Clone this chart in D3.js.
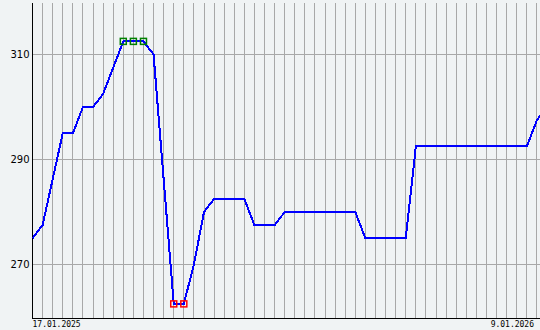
<!DOCTYPE html>
<html>
<head>
<meta charset="utf-8">
<script src="https://cdn.jsdelivr.net/npm/d3@7"></script>
<style>
  html, body { margin: 0; padding: 0; background: #f0f3f4; }
  svg { display: block; }
  .grid { stroke: #a8a8a8; stroke-width: 1; shape-rendering: crispEdges; }
  .axis { stroke: #000; stroke-width: 1; shape-rendering: crispEdges; }
  .ylab { font-family: 'DejaVu Sans', sans-serif; font-size: 10px; fill: #000; }
  .xlab { font-family: 'DejaVu Sans Mono', monospace; font-size: 8px; fill: #000; }
</style>
</head>
<body>
<script>
'use strict';

var width = 540;
var height = 330;

// weekly closes, one per Friday from 17.01.2025 to 9.01.2026
var weeks = [
  '2025-01-17', '2025-01-24', '2025-01-31', '2025-02-07', '2025-02-14', '2025-02-21',
  '2025-02-28', '2025-03-07', '2025-03-14', '2025-03-21', '2025-03-28', '2025-04-04',
  '2025-04-11', '2025-04-18', '2025-04-25', '2025-05-02', '2025-05-09', '2025-05-16',
  '2025-05-23', '2025-05-30', '2025-06-06', '2025-06-13', '2025-06-20', '2025-06-27',
  '2025-07-04', '2025-07-11', '2025-07-18', '2025-07-25', '2025-08-01', '2025-08-08',
  '2025-08-15', '2025-08-22', '2025-08-29', '2025-09-05', '2025-09-12', '2025-09-19',
  '2025-09-26', '2025-10-03', '2025-10-10', '2025-10-17', '2025-10-24', '2025-10-31',
  '2025-11-07', '2025-11-14', '2025-11-21', '2025-11-28', '2025-12-05', '2025-12-12',
  '2025-12-19', '2025-12-26', '2026-01-02', '2026-01-09'
];
var closes = [
  275, 277.5, 286.25, 295, 295, 300,
  300, 302.5, 307.5, 312.5, 312.5, 312.5,
  310, 286.25, 262.5, 262.5, 270, 280,
  282.5, 282.5, 282.5, 282.5, 277.5, 277.5,
  277.5, 280, 280, 280, 280, 280,
  280, 280, 280, 275, 275, 275,
  275, 275, 292.5, 292.5, 292.5, 292.5,
  292.5, 292.5, 292.5, 292.5, 292.5, 292.5,
  292.5, 292.5, 297.5, 300
];
var yTicks = [270, 290, 310];
var dateLabels = ['17.01.2025', '9.01.2026'];

var parse = d3.timeParse('%Y-%m-%d');
var data = weeks.map(function (w, i) {
  return { date: parse(w), value: closes[i] };
});

var svg = d3.select('body').append('svg').attr('width', width).attr('height', height);

var x = d3.scaleTime().domain(d3.extent(data, function (d) { return d.date; })).range([32.5, 547]);
var y = d3.scaleLinear().domain([260, 320]).range([317, 2]);

// vertical week grid
svg.append('g').selectAll('line').data(data.slice(1)).enter().append('line')
  .attr('class', 'grid')
  .attr('x1', function (d) { return x(d.date); })
  .attr('x2', function (d) { return x(d.date); })
  .attr('y1', y(320) + 1)
  .attr('y2', y(260) + 1);

// horizontal grid
svg.append('g').selectAll('line').data(yTicks).enter().append('line')
  .attr('class', 'grid')
  .attr('x1', x.range()[0])
  .attr('x2', width)
  .attr('y1', function (d) { return y(d); })
  .attr('y2', function (d) { return y(d); });

// axes
svg.append('line').attr('class', 'axis')
  .attr('x1', x.range()[0]).attr('x2', x.range()[0])
  .attr('y1', y(320) + 1).attr('y2', y(260) + 1.5);
svg.append('line').attr('class', 'axis')
  .attr('x1', x.range()[0]).attr('x2', width)
  .attr('y1', y(260) + 1.5).attr('y2', y(260) + 1.5);

svg.append('g').selectAll('text').data(yTicks).enter().append('text')
  .attr('class', 'ylab')
  .attr('x', x.range()[0] - 3)
  .attr('y', function (d) { return y(d); })
  .attr('dy', '0.36em')
  .attr('text-anchor', 'end')
  .text(function (d) { return d; });

svg.append('text').attr('class', 'xlab')
  .attr('x', x.range()[0]).attr('y', height - 3)
  .text(dateLabels[0]);
svg.append('text').attr('class', 'xlab')
  .attr('x', width - 6).attr('y', height - 3)
  .attr('text-anchor', 'end')
  .text(dateLabels[1]);

// price line
var line = d3.line()
  .x(function (d) { return x(d.date); })
  .y(function (d) { return y(d.value); });

svg.append('path').datum(data)
  .attr('d', line)
  .attr('fill', 'none')
  .attr('stroke', '#0000ff')
  .attr('stroke-width', 2)
  .attr('shape-rendering', 'crispEdges');

// high / low markers
var hi = d3.max(closes);
var lo = d3.min(closes);
var marks = data.filter(function (d) { return d.value === hi || d.value === lo; });

svg.append('g').selectAll('rect').data(marks).enter().append('rect')
  .attr('x', function (d) { return x(d.date) - 3; })
  .attr('y', function (d) { return y(d.value) - 3; })
  .attr('width', 6)
  .attr('height', 6)
  .attr('fill', 'none')
  .attr('stroke', function (d) { return d.value === hi ? '#008000' : '#ff0000'; })
  .attr('stroke-width', 1.5);
</script>
</body>
</html>
